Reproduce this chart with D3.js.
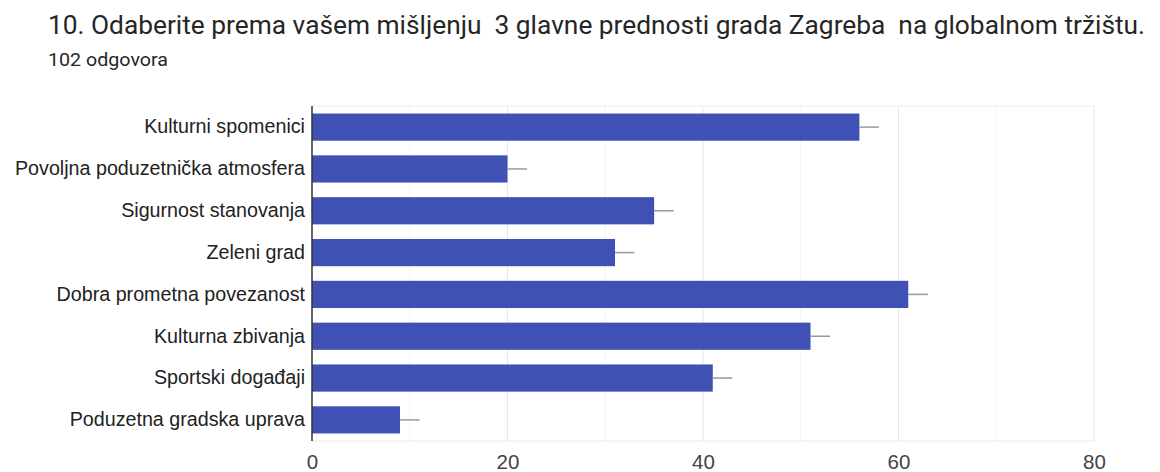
<!DOCTYPE html>
<html>
<head>
<meta charset="utf-8">
<script src="https://cdn.jsdelivr.net/npm/d3@7"></script>
<style>
  html, body { margin: 0; padding: 0; background: #fff; }
  svg { display: block; }
  text { white-space: pre; }
</style>
</head>
<body>
<svg id="chart" width="1160" height="472"></svg>
<script>
// Survey answers: three main advantages of Zagreb on the global market
const categories = [
  "Kulturni spomenici",
  "Povoljna poduzetnička atmosfera",
  "Sigurnost stanovanja",
  "Zeleni grad",
  "Dobra prometna povezanost",
  "Kulturna zbivanja",
  "Sportski događaji",
  "Poduzetna gradska uprava"
];
const counts = [56, 20, 35, 31, 61, 51, 41, 9];
const errorSpan = [2, 2, 2, 2, 2, 2, 2, 2];
const xTicks = [0, 20, 40, 60, 80];
const xMinorTicks = [10, 30, 50, 70];
const titleText = "10. Odaberite prema vašem mišljenju  3 glavne prednosti grada Zagreba  na globalnom tržištu.";
const subtitleText = "102 odgovora";

const svg = d3.select("#chart");
const margin = { left: 312, right: 66, top: 106, bottom: 31 };
const W = 1160, H = 472;

const x = d3.scaleLinear().domain([0, 80]).range([margin.left, W - margin.right]);
const y = d3.scaleBand().domain(categories).range([margin.top, H - margin.bottom]).paddingInner(0.35).paddingOuter(0.18);

// Titles
svg.append("text")
  .attr("x", 48).attr("y", 34)
  .attr("font-family", "Roboto, 'Open Sans', sans-serif")
  .attr("font-size", 25)
  .attr("fill", "#262626")
  .attr("textLength", 1097)
  .attr("lengthAdjust", "spacingAndGlyphs")
  .text(titleText);

svg.append("text")
  .attr("x", 48).attr("y", 66)
  .attr("font-family", "Roboto, sans-serif")
  .attr("font-size", 17.5)
  .attr("fill", "#262626")
  .attr("textLength", 120)
  .attr("lengthAdjust", "spacingAndGlyphs")
  .text(subtitleText);

// Gridlines
const grid = svg.append("g");
grid.selectAll("line.minor").data(xMinorTicks).join("line")
  .attr("class", "minor")
  .attr("x1", d => x(d)).attr("x2", d => x(d))
  .attr("y1", margin.top).attr("y2", H - margin.bottom)
  .attr("stroke", "#f3f3f3").attr("stroke-width", 1);
grid.selectAll("line.major").data(xTicks.slice(1)).join("line")
  .attr("class", "major")
  .attr("x1", d => x(d)).attr("x2", d => x(d))
  .attr("y1", margin.top).attr("y2", H - margin.bottom)
  .attr("stroke", "#e6e6e6").attr("stroke-width", 1);
grid.append("line")
  .attr("x1", x(0)).attr("x2", x(80))
  .attr("y1", margin.top).attr("y2", margin.top)
  .attr("stroke", "#ececec");
grid.append("line")
  .attr("x1", x(0)).attr("x2", x(80))
  .attr("y1", H - margin.bottom).attr("y2", H - margin.bottom)
  .attr("stroke", "#ececec");

// Bars
svg.append("g").selectAll("rect").data(categories).join("rect")
  .attr("x", x(0))
  .attr("y", d => y(d))
  .attr("width", (d, i) => x(counts[i]) - x(0))
  .attr("height", y.bandwidth())
  .attr("fill", "#3f51b5");

// Error whiskers
svg.append("g").selectAll("line").data(categories).join("line")
  .attr("x1", (d, i) => x(counts[i]))
  .attr("x2", (d, i) => x(counts[i] + errorSpan[i]))
  .attr("y1", d => y(d) + y.bandwidth() / 2)
  .attr("y2", d => y(d) + y.bandwidth() / 2)
  .attr("stroke", "#999").attr("stroke-width", 1.5);

// Vertical baseline
svg.append("line")
  .attr("x1", x(0)).attr("x2", x(0))
  .attr("y1", margin.top).attr("y2", H - margin.bottom)
  .attr("stroke", "#333").attr("stroke-width", 1.5);

// Category labels
const yAxis = d3.axisLeft(y).tickSize(0).tickPadding(7);
svg.append("g")
  .attr("transform", `translate(${x(0)},0)`)
  .call(yAxis)
  .call(g => g.select(".domain").remove())
  .call(g => g.selectAll("text")
    .attr("font-family", "Arial, 'Liberation Sans', sans-serif")
    .attr("font-size", 19.7)
    .attr("fill", "#222"));

// X-axis tick labels
const xAxis = d3.axisBottom(x).tickValues(xTicks).tickSize(0).tickPadding(13.5);
svg.append("g")
  .attr("transform", `translate(0,${H - margin.bottom})`)
  .call(xAxis)
  .call(g => g.select(".domain").remove())
  .call(g => g.selectAll("text")
    .attr("font-family", "Arial, 'Liberation Sans', sans-serif")
    .attr("font-size", 20.5)
    .attr("fill", "#444"));
</script>
</body>
</html>
